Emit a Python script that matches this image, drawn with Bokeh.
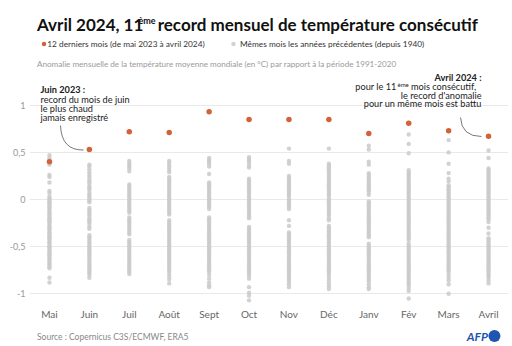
from bokeh.plotting import figure
from bokeh.layouts import column
from bokeh.models import Range1d, FactorRange, FixedTicker, Label, ColumnDataSource
from bokeh.embed import file_html
from bokeh.resources import INLINE

# ---------------- data ----------------
months = ["Mai", "Juin", "Juil", "Août", "Sept", "Oct", "Nov", "Déc", "Janv", "Fév", "Mars", "Avril"]

# last 12 months (May 2023 -> April 2024)
record = [0.40, 0.53, 0.72, 0.71, 0.93, 0.85, 0.85, 0.85, 0.70, 0.81, 0.73, 0.67]

# same months, previous years (since 1940)
mai_prev = [0.47, 0.44, 0.42, 0.37, 0.26, 0.24, 0.18, 0.09, 0.07, 0.03, 0.01, -0.01, -0.03, -0.04, -0.06,
            -0.08, -0.09, -0.11, -0.13, -0.15, -0.16, -0.18, -0.2, -0.21, -0.23, -0.24, -0.26, -0.28,
            -0.3, -0.31, -0.33, -0.35, -0.36, -0.38, -0.4, -0.41, -0.43, -0.45, -0.46, -0.48, -0.5,
            -0.51, -0.53, -0.55, -0.57, -0.58, -0.6, -0.62, -0.63, -0.65, -0.67, -0.69, -0.71, -0.73,
            -0.83, -0.88]
juin_prev = [0.37, 0.35, 0.32, 0.29, 0.26, 0.24, 0.21, 0.19, 0.17, 0.14, 0.12, 0.1, 0.07, 0.05, 0.03,
             0.01, -0.01, -0.03, -0.09, -0.11, -0.13, -0.15, -0.17, -0.2, -0.22, -0.24, -0.26, -0.29,
             -0.31, -0.38, -0.4, -0.42, -0.44, -0.46, -0.48, -0.5, -0.52, -0.54, -0.56, -0.58, -0.6,
             -0.62, -0.64, -0.66, -0.68, -0.7, -0.72, -0.74, -0.76, -0.78, -0.8, -0.83]
juil_prev = [0.41, 0.39, 0.37, 0.35, 0.33, 0.3, 0.16, 0.14, 0.12, 0.1, 0.08, 0.06, 0.04, 0.02, 0.0,
             -0.02, -0.04, -0.06, -0.08, -0.1, -0.12, -0.14, -0.19, -0.21, -0.23, -0.25, -0.27, -0.29,
             -0.31, -0.33, -0.35, -0.37, -0.43, -0.45, -0.47, -0.49, -0.51, -0.53, -0.55, -0.57, -0.59,
             -0.61, -0.63, -0.65, -0.67, -0.69, -0.71, -0.73, -0.75, -0.77, -0.79]
aout_prev = [0.41, 0.39, 0.36, 0.34, 0.31, 0.29, 0.24, 0.22, 0.2, 0.18, 0.16, 0.14, 0.12, 0.1, 0.08,
             0.06, 0.04, 0.02, 0.0, -0.02, -0.04, -0.06, -0.08, -0.1, -0.12, -0.14, -0.16, -0.22, -0.24,
             -0.26, -0.28, -0.3, -0.32, -0.34, -0.36, -0.38, -0.4, -0.42, -0.44, -0.46, -0.48, -0.5,
             -0.52, -0.54, -0.56, -0.58, -0.6, -0.62, -0.64, -0.66, -0.68, -0.7, -0.72, -0.74, -0.76,
             -0.79, -0.82, -0.85, -0.89]
sept_prev = [0.44, 0.42, 0.4, 0.38, 0.35, 0.27, 0.18, 0.16, 0.14, 0.12, 0.1, 0.08, 0.06, 0.04, 0.02,
             0.0, -0.02, -0.04, -0.06, -0.08, -0.1, -0.19, -0.21, -0.23, -0.25, -0.27, -0.29, -0.31,
             -0.33, -0.35, -0.37, -0.39, -0.41, -0.43, -0.45, -0.47, -0.49, -0.51, -0.53, -0.55, -0.57,
             -0.59, -0.61, -0.63, -0.65, -0.67, -0.69, -0.71, -0.73, -0.75, -0.77, -0.8, -0.84, -0.88,
             -0.91, -0.93]
oct_prev = [0.45, 0.43, 0.41, 0.39, 0.36, 0.34, 0.22, 0.2, 0.18, 0.16, 0.14, 0.12, 0.1, 0.08, 0.06,
            0.04, 0.02, 0.0, -0.02, -0.04, -0.06, -0.08, -0.1, -0.12, -0.14, -0.16, -0.18, -0.2, -0.29,
            -0.31, -0.33, -0.35, -0.37, -0.39, -0.41, -0.43, -0.45, -0.47, -0.49, -0.51, -0.53, -0.55,
            -0.57, -0.59, -0.61, -0.63, -0.65, -0.67, -0.69, -0.71, -0.73, -0.75, -0.77, -0.79, -0.81,
            -0.84, -0.93, -0.99, -1.02, -1.07]
nov_prev = [0.54, 0.41, 0.38, 0.25, 0.23, 0.21, 0.19, 0.17, 0.15, 0.13, 0.11, 0.09, 0.07, 0.05, 0.03,
            0.0, -0.02, -0.04, -0.06, -0.08, -0.1, -0.22, -0.28, -0.35, -0.37, -0.39, -0.41, -0.43,
            -0.45, -0.47, -0.49, -0.51, -0.53, -0.55, -0.57, -0.59, -0.61, -0.63, -0.65, -0.67, -0.69,
            -0.71, -0.73, -0.75, -0.77, -0.79, -0.81, -0.83, -0.85, -0.87, -0.9, -0.93]
dec_prev = [0.54, 0.38, 0.36, 0.34, 0.32, 0.3, 0.28, 0.26, 0.24, 0.22, 0.2, 0.18, 0.16, 0.14, 0.12,
            0.1, 0.08, 0.06, 0.04, 0.01, -0.01, -0.03, -0.05, -0.07, -0.09, -0.11, -0.13, -0.15, -0.17,
            -0.2, -0.22, -0.28, -0.3, -0.32, -0.34, -0.36, -0.38, -0.4, -0.42, -0.44, -0.46, -0.48,
            -0.5, -0.52, -0.54, -0.56, -0.58, -0.6, -0.62, -0.64, -0.66, -0.68, -0.7, -0.72, -0.74,
            -0.76, -0.78, -0.8, -0.83, -0.86, -0.89, -0.92, -0.95]
janv_prev = [0.57, 0.53, 0.4, 0.37, 0.28, 0.26, 0.24, 0.22, 0.2, 0.18, 0.16, 0.14, 0.12, 0.1, 0.08,
             0.05, -0.02, -0.04, -0.06, -0.08, -0.1, -0.12, -0.14, -0.16, -0.18, -0.2, -0.22, -0.24,
             -0.26, -0.28, -0.3, -0.32, -0.34, -0.36, -0.38, -0.4, -0.47, -0.49, -0.51, -0.53, -0.55,
             -0.57, -0.59, -0.61, -0.63, -0.65, -0.67, -0.69, -0.71, -0.73, -0.75, -0.77, -0.79, -0.81,
             -0.83, -0.85, -0.87, -0.9, -0.93, -0.95]
fev_prev = [0.69, 0.59, 0.49, 0.31, 0.29, 0.27, 0.25, 0.23, 0.21, 0.19, 0.17, 0.15, 0.13, 0.11, 0.09,
            0.07, 0.05, 0.03, 0.01, -0.01, -0.03, -0.05, -0.07, -0.09, -0.11, -0.13, -0.15, -0.17,
            -0.19, -0.21, -0.23, -0.25, -0.27, -0.29, -0.31, -0.33, -0.35, -0.37, -0.39, -0.41, -0.43,
            -0.47, -0.49, -0.51, -0.53, -0.55, -0.57, -0.59, -0.61, -0.63, -0.65, -0.67, -0.69, -0.71,
            -0.73, -0.75, -0.77, -0.79, -0.81, -0.83, -0.85, -0.87, -0.89, -0.91, -0.94, -0.97, -1.05]
mars_prev = [0.63, 0.5, 0.38, 0.28, 0.22, 0.19, 0.15, 0.13, 0.11, 0.09, 0.07, 0.05, 0.03, 0.01, -0.01,
             -0.03, -0.05, -0.07, -0.09, -0.11, -0.13, -0.15, -0.17, -0.19, -0.21, -0.23, -0.25, -0.27,
             -0.29, -0.31, -0.33, -0.35, -0.37, -0.39, -0.41, -0.43, -0.45, -0.47, -0.49, -0.51, -0.53,
             -0.55, -0.57, -0.59, -0.61, -0.63, -0.65, -0.67, -0.69, -0.71, -0.73, -0.75, -0.77, -0.8,
             -0.83, -0.86, -0.9, -1.0]
avril_prev = [0.52, 0.44, 0.33, 0.31, 0.29, 0.27, 0.25, 0.23, 0.21, 0.19, 0.17, 0.15, 0.13, 0.11, 0.09,
              0.07, 0.05, 0.03, 0.01, -0.01, -0.03, -0.05, -0.07, -0.09, -0.11, -0.13, -0.15, -0.17,
              -0.19, -0.21, -0.24, -0.3, -0.36, -0.41, -0.43, -0.45, -0.47, -0.49, -0.51, -0.53, -0.55,
              -0.57, -0.59, -0.61, -0.63, -0.65, -0.67, -0.69, -0.71, -0.73, -0.75, -0.77, -0.79, -0.81,
              -0.83, -0.86, -0.89]

previous = [mai_prev, juin_prev, juil_prev, aout_prev, sept_prev, oct_prev,
            nov_prev, dec_prev, janv_prev, fev_prev, mars_prev, avril_prev]

y_ticks = [-1, -0.5, 0, 0.5, 1]
y_tick_labels = ["-1", "-0,5", "0", "0,5", "1"]

# ---------------- layout constants ----------------
W = 512
HEAD_H, MAIN_TOP, MAIN_BOT = 70, 70, 325   # canvas rows
FOOT_H = 346 - MAIN_BOT
FL, FR = 29, 4
FRAME_BOT = 305                             # canvas row of main frame bottom
Y0, PPU = 199.0, 94.25                      # canvas row of 0 °C, pixels per °C
y_end = (Y0 - MAIN_TOP) / PPU
y_start = (Y0 - FRAME_BOT) / PPU
FW = (W - FL - FR) / len(months)

ORANGE = "#d2623b"
GREY = "#cacaca"
FONT = "Lato"
BLUE = "#1f55b0"


def blank(h, row_top, row_bot):
    f = figure(width=W, height=h, x_range=Range1d(0, W), y_range=Range1d(row_bot, row_top),
               output_backend="svg", toolbar_location=None, title=None,
               x_axis_location=None, y_axis_location=None,
               min_border_left=0, min_border_right=0, min_border_top=0, min_border_bottom=0)
    f.outline_line_color = None
    f.background_fill_color = "white"
    f.border_fill_color = "white"
    f.xgrid.visible = False
    f.ygrid.visible = False
    return f


def dlab(f, text, px, py, size, color="#222222", style="normal", align="left", baseline="middle"):
    f.add_layout(Label(x=px, y=py, text=text, text_font=FONT, text_font_size=f"{size}px",
                       text_color=color, text_font_style=style, text_align=align,
                       text_baseline=baseline))


# ---------------- header ----------------
head = blank(HEAD_H, 0, HEAD_H)
dlab(head, "Avril 2024, 11", 8, 24, 17, color="#111111", style="bold", baseline="alphabetic")
dlab(head, "ème", 116.5, 19.5, 9, color="#111111", style="bold", baseline="alphabetic")
dlab(head, "record mensuel de température consécutif", 137, 24, 17, color="#111111", style="bold",
     baseline="alphabetic")
head.scatter(x=[15.5, 218], y=[43.5, 43.5], size=4.5, fill_color=[ORANGE, "#d3d3d3"], line_color=None)
dlab(head, "12 derniers mois (de mai 2023 à avril 2024)", 19, 43.5, 8.3, color="#333333")
dlab(head, "Mêmes mois les années précédentes (depuis 1940)", 225, 43.5, 8.3, color="#333333")
dlab(head, "Anomalie mensuelle de la température moyenne mondiale (en °C) par rapport à la période 1991-2020",
     8, 63.5, 8.1, color="#9a9a9a")

# ---------------- main chart ----------------
p = figure(width=W, height=MAIN_BOT - MAIN_TOP,
           x_range=FactorRange(*months, range_padding=0),
           y_range=Range1d(y_start, y_end),
           output_backend="svg", toolbar_location=None, title=None,
           min_border_left=FL, min_border_right=FR, min_border_top=0,
           min_border_bottom=MAIN_BOT - FRAME_BOT)
p.outline_line_color = None
p.background_fill_color = "white"
p.border_fill_color = "white"

p.xgrid.visible = False
p.ygrid.ticker = FixedTicker(ticks=y_ticks)
p.ygrid.grid_line_color = "#e9e9e9"
p.ygrid.grid_line_width = 1

p.yaxis.ticker = FixedTicker(ticks=y_ticks)
p.yaxis.major_label_overrides = {t: l for t, l in zip(y_ticks, y_tick_labels)}
for ax in (p.xaxis, p.yaxis):
    ax.axis_line_color = None
    ax.major_tick_line_color = None
    ax.minor_tick_line_color = None
    ax.major_tick_out = 0
    ax.major_tick_in = 0
    ax.major_label_text_font = FONT
p.yaxis.major_label_text_font_size = "9px"
p.yaxis.major_label_text_color = "#999999"
p.yaxis.major_label_standoff = 4
p.xaxis.major_label_text_font_size = "10px"
p.xaxis.major_label_text_color = "#666666"
p.xaxis.major_label_standoff = 2

# grey dots (previous years)
gx, gy = [], []
for m, vals in zip(months, previous):
    gx += [m] * len(vals)
    gy += vals
p.scatter(x="x", y="y", source=ColumnDataSource(dict(x=gx, y=gy)),
          size=4.4, fill_color=GREY, fill_alpha=0.85, line_color=None)

# orange dots (last 12 months)
p.scatter(x="x", y="y", source=ColumnDataSource(dict(x=months, y=record)),
          size=5.5, fill_color=ORANGE, line_color=None)


def dx(px):
    return (px - FL) / FW


def dy(py):
    return (Y0 - py) / PPU


def slab(text, px, py, size, color="#222222", style="normal", align="left"):
    p.add_layout(Label(x=px - FL, y=FRAME_BOT - py, x_units="screen", y_units="screen",
                       text=text, text_font=FONT, text_font_size=f"{size}px", text_color=color,
                       text_font_style=style, text_align=align, text_baseline="middle"))


# connector curves
p.quadratic(x0=[dx(60), dx(460)], y0=[dy(125), dy(117)],
            x1=[dx(83), dx(481)], y1=[dy(149.5), dy(136)],
            cx=[dx(61), dx(461)], cy=[dy(150), dy(136)],
            line_color="#555555", line_width=0.8)

# left annotation
slab("Juin 2023 :", 40, 88.5, 9.2, style="bold")
slab("record du mois de juin", 40, 98.5, 9.2)
slab("le plus chaud", 40, 107.5, 9.2)
slab("jamais enregistré", 40, 116.5, 9.2)

# right annotation
slab("Avril 2024 :", 481, 77, 9.2, style="bold", align="right")
slab("pour le 11", 396, 86, 9.2, align="right")
slab("ème", 397, 83.5, 6, align="left")
slab("mois consécutif,", 410.5, 86, 9.2, align="left")
slab("le record d'anomalie", 481, 94.5, 9.2, align="right")
slab("pour un même mois est battu", 481, 103, 9.2, align="right")

# ---------------- footer ----------------
foot = blank(FOOT_H, MAIN_BOT, 346)
dlab(foot, "Source : Copernicus C3S/ECMWF, ERA5", 8, 336, 8.5, color="#888888")
dlab(foot, "AFP", 490, 336, 12, color=BLUE, style="bold italic", align="right")
foot.scatter(x=[497], y=[335.5], size=12, fill_color=BLUE, line_color=None)

layout = column(head, p, foot, spacing=0)
open("out.html", "w").write(file_html(layout, INLINE))
